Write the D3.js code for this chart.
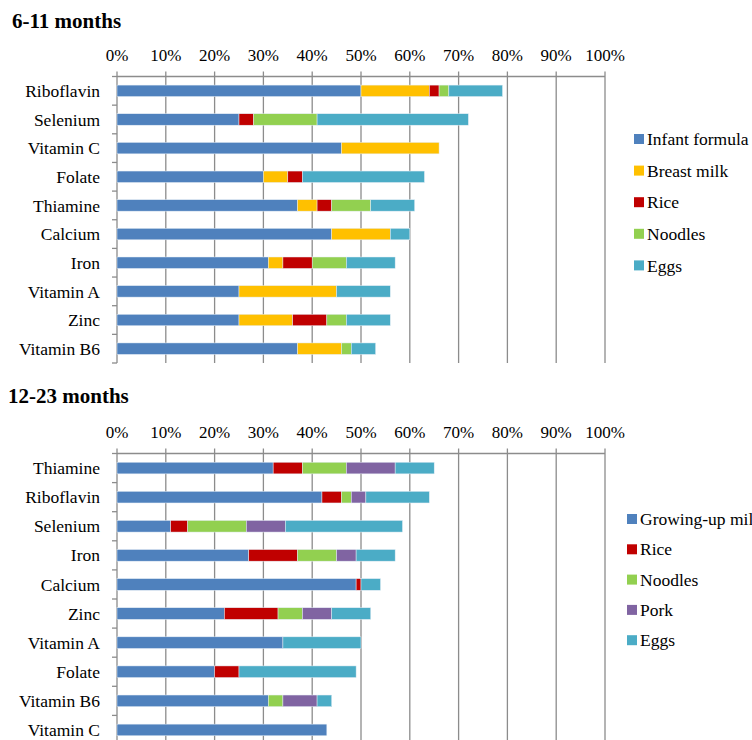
<!DOCTYPE html>
<html>
<head>
<meta charset="utf-8">
<style>
body { margin:0; background:#fff; }
svg text { font-family:"Liberation Serif","Times New Roman",serif; fill:#000; }
</style>
<script src="https://cdn.jsdelivr.net/npm/d3@7"></script>
</head>
<body>
<div id="chart"></div>
<script>
var width = 752, height = 740;

var ticks = [0, 10, 20, 30, 40, 50, 60, 70, 80, 90, 100];

// 6-11 months
var infNutrients = ["Riboflavin","Selenium","Vitamin C","Folate","Thiamine","Calcium","Iron","Vitamin A","Zinc","Vitamin B6"];
var infSources = ["Infant formula","Breast milk","Rice","Noodles","Eggs"];
var infFormula = [50, 25, 46, 30, 37, 44, 31, 25, 25, 37];
var infBreast  = [14,  0, 20,  5,  4, 12,  3, 20, 11,  9];
var infRice    = [ 2,  3,  0,  3,  3,  0,  6,  0,  7,  0];
var infNoodles = [ 2, 13,  0,  0,  8,  0,  7,  0,  4,  2];
var infEggs    = [11, 31,  0, 25,  9,  4, 10, 11,  9,  5];
var infColors  = ["#4F81BD","#FFC000","#C00000","#92D050","#4BACC6"];

// 12-23 months
var todNutrients = ["Thiamine","Riboflavin","Selenium","Iron","Calcium","Zinc","Vitamin A","Folate","Vitamin B6","Vitamin C"];
var todSources = ["Growing-up milk","Rice","Noodles","Pork","Eggs"];
var todMilk    = [32, 42, 11, 27, 49, 22, 34, 20, 31, 43];
var todRice    = [ 6,  4, 3.5, 10, 1, 11,  0,  5,  0,  0];
var todNoodles = [ 9,  2, 12,  8,  0,  5,  0,  0,  3,  0];
var todPork    = [10,  3,  8,  4,  0,  6,  0,  0,  7,  0];
var todEggs    = [ 8, 13, 24,  8,  4,  8, 16, 24,  3,  0];
var todColors  = ["#4F81BD","#C00000","#92D050","#8064A2","#4BACC6"];

var svg = d3.select("#chart").append("svg")
    .attr("width", width)
    .attr("height", height);

function drawPanel(cfg) {
  var g = svg.append("g");

  var x = d3.scaleLinear().domain([0, 100]).range([117, 605]);
  var y = d3.scaleBand().domain(cfg.cats).range([cfg.top, cfg.bottom]).paddingInner(0.6).paddingOuter(0.3);
  var yb = d3.scaleBand().domain(cfg.cats).range([cfg.top, cfg.bottom]);

  g.append("text")
    .attr("x", cfg.titleX).attr("y", cfg.titleY)
    .attr("font-size", 21).attr("font-weight", "bold")
    .text(cfg.title);

  // gridlines
  g.selectAll(".grid").data(ticks).enter().append("line")
    .attr("x1", function(d) { return x(d); }).attr("x2", function(d) { return x(d); })
    .attr("y1", cfg.top - 5).attr("y2", cfg.bottom)
    .attr("stroke", "#8c8c8c").attr("stroke-width", 1.3);

  g.append("line")
    .attr("x1", x(0)).attr("x2", x(100))
    .attr("y1", cfg.top).attr("y2", cfg.top)
    .attr("stroke", "#8c8c8c").attr("stroke-width", 1.3);

  g.selectAll(".tl").data(ticks).enter().append("text")
    .attr("x", function(d) { return x(d); }).attr("y", cfg.top - 16)
    .attr("text-anchor", "middle").attr("font-size", 17)
    .text(function(d) { return d + "%"; });

  // category ticks
  var bounds = cfg.cats.map(function(c) { return yb(c); }).concat([cfg.bottom]);
  g.selectAll(".ct").data(bounds).enter().append("line")
    .attr("x1", x(0) - 5).attr("x2", x(0))
    .attr("y1", function(d) { return d; }).attr("y2", function(d) { return d; })
    .attr("stroke", "#8c8c8c").attr("stroke-width", 1.3);

  g.selectAll(".cl").data(cfg.cats).enter().append("text")
    .attr("x", 100).attr("y", function(d) { return y(d) + y.bandwidth() / 2; })
    .attr("dy", "0.35em").attr("text-anchor", "end").attr("font-size", 17.5)
    .text(function(d) { return d; });

  var rows = cfg.cats.map(function(c, i) {
    var o = { cat: c };
    cfg.series.forEach(function(s, j) { o[cfg.keys[j]] = s[i]; });
    return o;
  });
  var stacked = d3.stack().keys(cfg.keys)(rows);

  g.selectAll(".layer").data(stacked).enter().append("g")
    .attr("fill", function(d, i) { return cfg.colors[i]; })
    .selectAll("rect").data(function(d) { return d; }).enter().append("rect")
    .filter(function(d) { return d[1] - d[0] > 0; })
    .attr("x", function(d) { return x(d[0]); })
    .attr("width", function(d) { return x(d[1]) - x(d[0]); })
    .attr("y", function(d) { return y(d.data.cat); })
    .attr("height", y.bandwidth())
    .attr("stroke", "#e6eef6").attr("stroke-width", 0.5);

  var leg = g.selectAll(".leg").data(cfg.keys).enter().append("g")
    .attr("transform", function(d, i) { return "translate(" + cfg.legX + "," + (cfg.legY + i * cfg.legStep) + ")"; });
  leg.append("rect").attr("x", 0).attr("y", -5).attr("width", 10).attr("height", 10)
    .attr("fill", function(d, i) { return cfg.colors[i]; });
  leg.append("text").attr("x", 13).attr("y", 0).attr("dy", "0.35em")
    .attr("font-size", 17.5).text(function(d) { return d; });
}

drawPanel({
  title: "6-11 months", titleX: 12, titleY: 28,
  top: 76.5, bottom: 363,
  cats: infNutrients, keys: infSources,
  series: [infFormula, infBreast, infRice, infNoodles, infEggs],
  colors: infColors,
  legX: 634, legY: 139, legStep: 31.6
});

drawPanel({
  title: "12-23 months", titleX: 8, titleY: 403,
  top: 453.5, bottom: 744.5,
  cats: todNutrients, keys: todSources,
  series: [todMilk, todRice, todNoodles, todPork, todEggs],
  colors: todColors,
  legX: 627, legY: 519, legStep: 30.3
});
</script>
</body>
</html>
